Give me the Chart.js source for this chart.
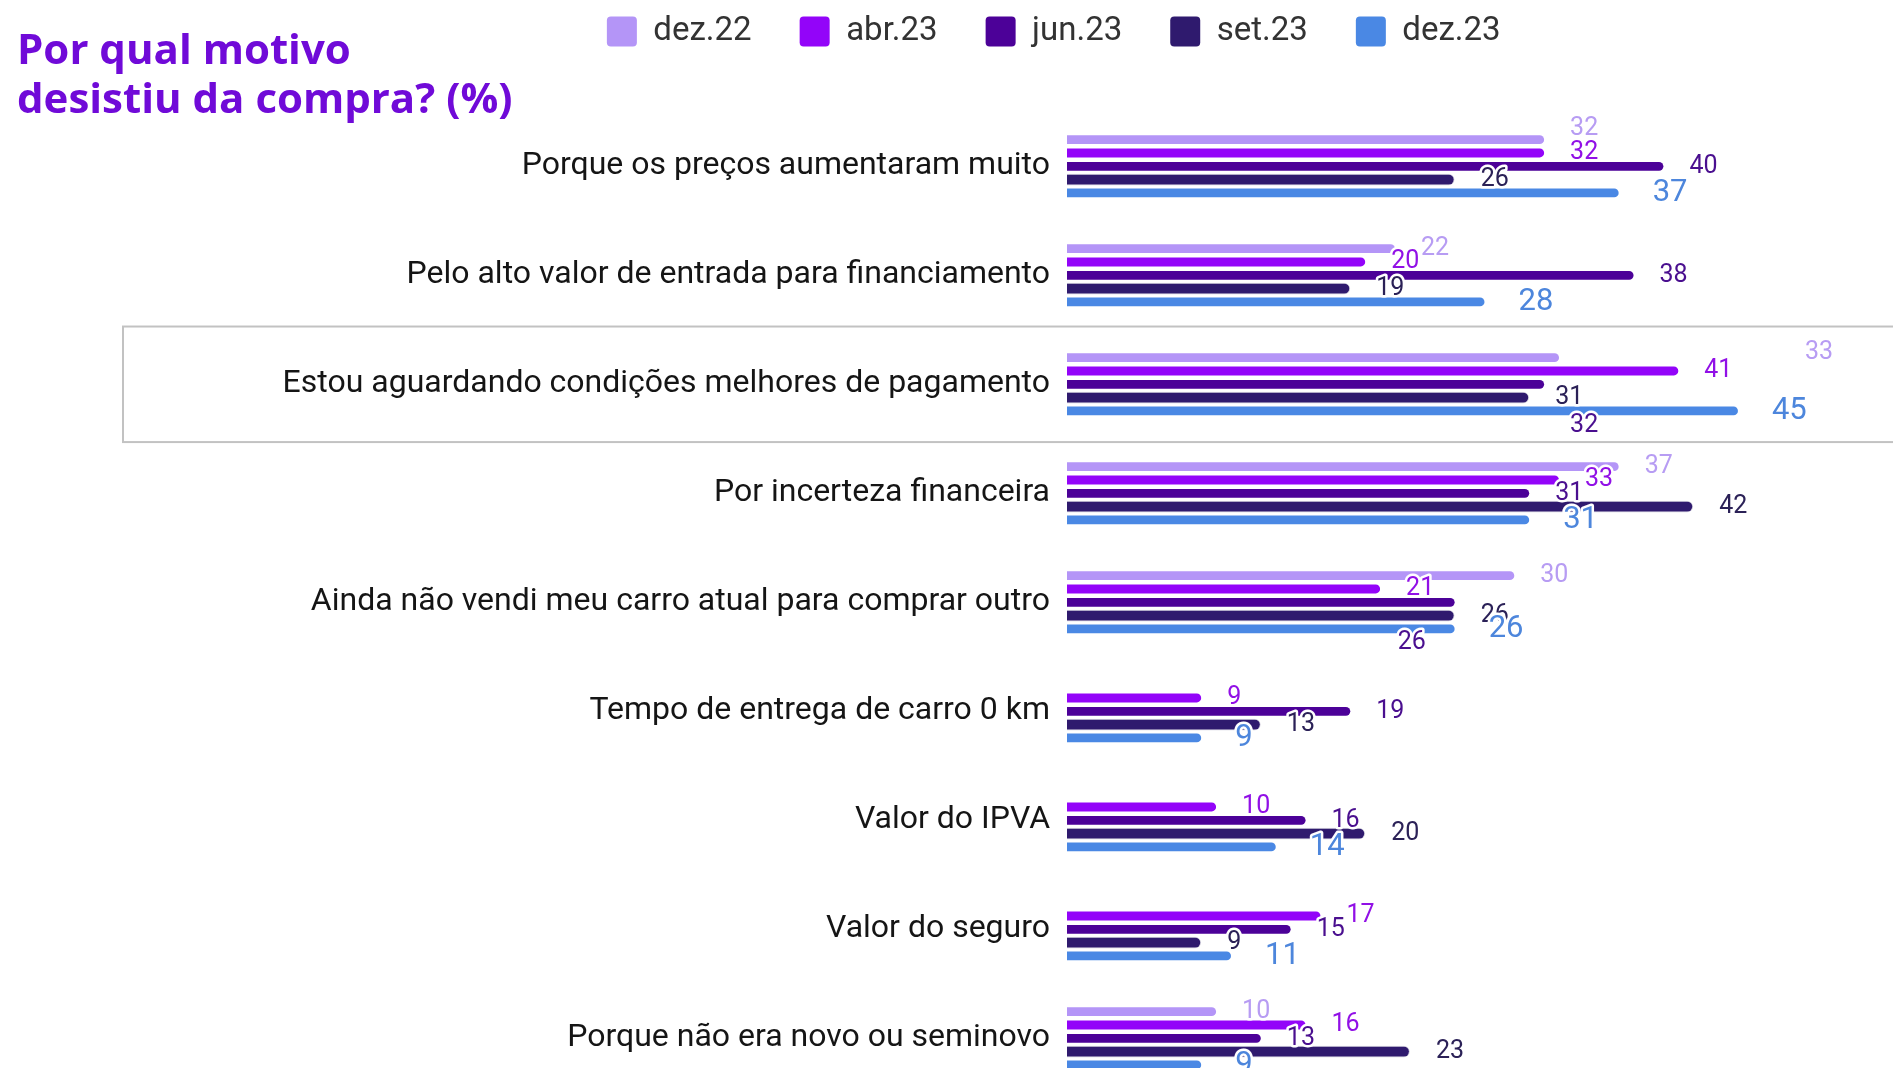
<!DOCTYPE html>
<html>
<head>
<meta charset="utf-8">
<script src="https://cdn.jsdelivr.net/npm/chart.js@4.4.0/dist/chart.umd.min.js"></script>
<style>
  html, body { margin: 0; padding: 0; background: #fff; overflow: hidden; }
  body { width: 1893px; height: 1068px; position: relative; }
  #grafico { position: absolute; left: 0; top: -32.6px; }
  #titulo {
    position: absolute; left: 17px; top: 23px; z-index: 2;
    font-family: "Open Sans", sans-serif; font-weight: 700;
    font-size: 42px; line-height: 49px; color: #700ad8;
  }
</style>
</head>
<body>
<canvas id="grafico" width="1893" height="1162"></canvas>
<div id="titulo">Por qual motivo<br>desistiu da compra? (%)</div>
<script>
// dados
const categorias = [
  'Porque os preços aumentaram muito',
  'Pelo alto valor de entrada para financiamento',
  'Estou aguardando condições melhores de pagamento',
  'Por incerteza financeira',
  'Ainda não vendi meu carro atual para comprar outro',
  'Tempo de entrega de carro 0 km',
  'Valor do IPVA',
  'Valor do seguro',
  'Porque não era novo ou seminovo'
]
const series = ['dez.22', 'abr.23', 'jun.23', 'set.23', 'dez.23']
const dez22 = [32, 22, 33, 37, 30, null, null, null, 10]
const abr23 = [32, 20, 41, 33, 21, 9, 10, 17, 16]
const jun23 = [40, 38, 32, 31, 26, 19, 16, 15, 13]
const set23 = [26, 19, 31, 42, 26, 13, 20, 9, 23]
const dez23 = [37, 28, 45, 31, 26, 9, 14, 11, 9]

/* estilo de cada série */
const cores = ['#b495f7', '#9304f9', '#4c0198', '#2f1a6e', '#4a88e4']
const coresRotulo = ['#b79cf3', '#9110e6', '#4a0f8f', '#2b2157', '#4d86dc']
const espessura = [0.66, 0.66, 0.66, 0.9, 0.66]
const tamanhoRotulo = [25, 25, 25, 25, 31]
const recuoRotulo = [26, 26, 26, 26, 34]
// pequenos deslocamentos de rótulos que se sobrepõem (categoria-série)
const ajustes = { '0-0': [0, -11], '2-0': [220, -5], '2-2': [0, 41], '4-2': [-83, 40] }

const valores = [dez22, abr23, jun23, set23, dez23]

const rotulos = {
  id: 'rotulos',
  afterDatasetsDraw(chart) {
    const ctx = chart.ctx
    chart.data.datasets.forEach((ds, i) => {
      chart.getDatasetMeta(i).data.forEach((bar, j) => {
        const v = ds.data[j]
        if (v === null || v === undefined) return
        const aj = ajustes[j + '-' + i] || [0, 0]
        const x = bar.x + recuoRotulo[i] + aj[0]
        const y = bar.y + aj[1]
        ctx.save()
        ctx.font = tamanhoRotulo[i] + 'px Roboto'
        ctx.textAlign = 'left'
        ctx.textBaseline = 'middle'
        ctx.lineJoin = 'round'
        ctx.lineWidth = 5
        ctx.strokeStyle = '#fff'
        ctx.strokeText(String(v), x, y)
        ctx.fillStyle = coresRotulo[i]
        ctx.fillText(String(v), x, y)
        ctx.restore()
      })
    })
  }
}

const destaque = {
  id: 'destaque',
  beforeDatasetsDraw(chart) {
    const ctx = chart.ctx
    const y = chart.scales.y
    const centro = y.getPixelForValue(2)
    const banda = y.height / categorias.length
    ctx.save()
    ctx.strokeStyle = '#c2c2c2'
    ctx.lineWidth = 2
    ctx.strokeRect(123, centro - banda * 0.53, chart.width, banda * 1.06)
    ctx.restore()
  }
}

const folgaLegenda = {
  id: 'folgaLegenda',
  beforeInit(chart) {
    const fitOriginal = chart.legend.fit
    chart.legend.fit = function () {
      fitOriginal.call(this)
      this.height += 53.8
    }
  }
}

let ctx = document.querySelector('#grafico').getContext('2d')

let dados = {
  labels: categorias,
  datasets: series.map((nome, i) => ({
    label: nome,
    data: valores[i],
    backgroundColor: cores[i],
    borderColor: i === 3 ? '#d4d2de' : cores[i],
    borderWidth: i === 3 ? 1 : 0,
    borderRadius: 6,
    categoryPercentage: 0.611,
    barPercentage: espessura[i]
  }))
}

let opcoes = {
  indexAxis: 'y',
  responsive: false,
  animation: false,
  layout: { padding: { left: 214.5, right: 0, top: 0, bottom: 4 } },
  scales: {
    x: { display: false, min: 0, max: 55.4 },
    y: {
      grid: { display: false, drawTicks: false },
      border: { display: false },
      ticks: { color: '#151515', font: { family: 'Roboto', size: 32 }, padding: 17 },
      afterFit(scale) { scale.width = 852.5 }
    }
  },
  plugins: {
    legend: {
      position: 'top',
      labels: {
        color: '#333',
        font: { family: 'Roboto', size: 33 },
        boxWidth: 30,
        boxHeight: 30,
        padding: 48,
        useBorderRadius: true,
        borderRadius: 4,
        generateLabels(chart) {
          return Chart.defaults.plugins.legend.labels.generateLabels(chart).map(it => {
            it.lineWidth = 0
            return it
          })
        }
      }
    },
    tooltip: { enabled: false }
  }
}

let grafico = new Chart(ctx, {
  type: 'bar',
  data: dados,
  options: opcoes,
  plugins: [folgaLegenda, destaque, rotulos]
})
</script>
</body>
</html>
